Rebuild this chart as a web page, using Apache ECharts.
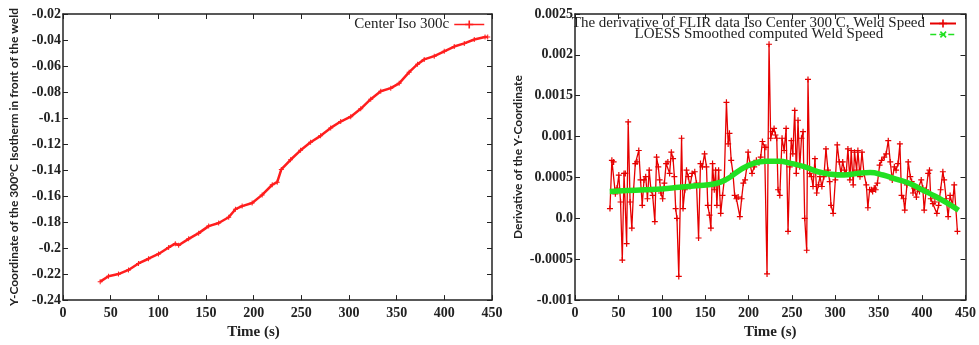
<!DOCTYPE html>
<html>
<head>
<meta charset="utf-8">
<script src="https://cdn.jsdelivr.net/npm/echarts@6/dist/echarts.min.js"></script>
<style>
html,body{margin:0;padding:0;background:#fff;}
#c{width:979px;height:345px;}
</style>
</head>
<body>
<div id="c"></div>
<script>
// ---- Left chart data: Y-coordinate of 300°C isotherm ----
const leftTime = [39, 47.7, 58.2, 68.7, 79.2, 89.7, 100.2, 110.8, 117.8, 121.3, 131.8, 142.3, 152.8, 163.3, 173.8, 180.9, 187.9, 198.4, 208.9, 219.5, 224.7, 229, 238.7, 249.2, 259.7, 270.2, 280.8, 291.3, 301.8, 312.3, 322.8, 333.3, 343.8, 352.6, 363.1, 371.9, 378.9, 389.4, 399.9, 410.4, 420.9, 431.4, 442.7, 445.5];
const leftValue = [-0.2258, -0.2216, -0.2200, -0.2168, -0.2118, -0.2082, -0.2045, -0.1995, -0.1966, -0.1978, -0.1929, -0.1885, -0.1831, -0.1807, -0.1763, -0.1701, -0.1677, -0.1653, -0.1591, -0.1513, -0.1493, -0.1395, -0.1321, -0.1248, -0.1186, -0.1137, -0.1076, -0.1027, -0.0990, -0.0929, -0.0855, -0.0794, -0.0770, -0.0733, -0.0647, -0.0586, -0.0549, -0.0524, -0.0487, -0.0450, -0.0426, -0.0396, -0.0377, -0.0377];

// ---- Right chart data: derivative (weld speed) ----
const derivTime = [40.3,42.5,44.5,46.5,48.5,50.5,52.5,54.5,56.5,58.0,59.5,61.3,63.5,65.5,67.5,69.5,71.5,73.5,75.5,77.5,79.5,81.5,83.5,85.5,87.5,89.5,92.0,94.0,96.0,97.5,99.0,101.0,103.0,105.0,107.0,109.0,111.0,113.0,114.5,116.0,117.5,119.6,122.8,124.5,126.6,128.5,130.5,132.5,135.0,138.0,140.0,142.4,144.6,146.8,149.3,151.5,153.0,155.0,156.6,158.5,160.5,162.0,163.5,165.5,167.9,170.0,172.0,174.5,176.5,178.0,180.0,182.0,184.0,186.0,188.0,190.0,192.0,194.0,196.0,198.0,199.5,201.5,204.0,206.5,209.0,212.0,214.0,216.0,218.5,220.0,221.3,223.6,225.5,227.5,229.4,231.0,232.5,234.0,236.0,238.6,241.0,243.3,245.5,247.5,249.3,251.0,253.2,255.0,257.0,259.0,261.0,262.8,264.7,267.0,268.5,270.5,272.5,274.3,276.5,278.5,280.5,282.3,284.5,286.8,289.2,291.5,293.5,295.0,297.5,300.0,302.2,304.5,306.5,308.5,310.5,312.5,314.5,316.8,318.3,320.6,322.1,324.5,326.0,328.4,330.7,333.0,335.7,337.5,339.5,341.5,343.0,344.8,346.5,348.5,351.0,353.3,356.4,358.6,361.0,363.3,365.6,368.0,370.0,372.3,374.4,376.3,378.6,380.0,382.5,384.0,386.4,388.0,389.5,391.0,393.4,395.0,397.0,399.0,400.8,402.4,404.7,407.0,408.5,410.0,412.4,414.7,417.0,419.0,421.3,423.9,425.4,427.7,430.0,432.3,435.0,437.0,440.7];
const derivValue = [0.00012,0.00071,0.00069,0.00030,0.00037,0.00053,0.00020,-0.00051,0.00055,0.00055,-0.00031,0.00118,0.00020,-0.00012,0.00035,0.00067,0.00069,0.00083,0.00047,0.00016,0.00047,0.00051,0.00024,0.00059,0.00035,0.00028,-0.00004,0.00075,0.00063,0.00047,0.00031,0.00024,0.00043,0.00067,0.00069,0.00055,0.00081,0.00073,0.00051,0.00012,0.00000,-0.00071,0.00098,0.00012,0.00035,0.00059,0.00051,0.00039,0.00055,0.00057,0.00043,-0.00024,0.00067,0.00063,0.00079,0.00063,0.00016,0.00004,-0.00012,0.00067,0.00035,0.00059,0.00016,0.00059,0.00006,0.00028,0.00047,0.00142,0.00091,0.00104,0.00071,0.00055,0.00028,0.00024,0.00026,0.00002,0.00024,0.00043,0.00047,0.00063,0.00081,0.00067,0.00055,0.00063,0.00071,0.00068,0.00075,0.00094,0.00087,0.00087,-0.00068,0.00213,0.00098,0.00106,0.00110,0.00102,0.00098,0.00035,0.00028,0.00098,0.00083,0.00110,-0.00016,0.00063,0.00095,0.00079,0.00132,0.00055,0.00120,0.00063,0.00098,0.00106,0.00000,-0.00039,0.00170,0.00055,0.00051,0.00039,0.00073,0.00031,0.00041,0.00051,0.00039,0.00051,0.00085,0.00059,0.00045,0.00016,0.00006,0.00047,0.00090,0.00069,0.00055,0.00069,0.00059,0.00055,0.00085,0.00047,0.00083,0.00041,0.00081,0.00059,0.00083,0.00051,0.00081,0.00055,0.00041,0.00013,0.00035,0.00035,0.00033,0.00037,0.00035,0.00043,0.00065,0.00071,0.00075,0.00079,0.00095,0.00069,0.00047,0.00063,0.00059,0.00067,0.00091,0.00028,0.00024,0.00010,0.00041,0.00069,0.00051,0.00045,0.00031,0.00037,0.00026,0.00035,0.00033,0.00047,0.00037,0.00010,0.00035,0.00055,0.00059,0.00024,0.00018,0.00020,0.00006,0.00016,0.00035,0.00057,0.00047,0.00024,0.00002,0.00028,0.00016,0.00041,-0.00016];

// ---- LOESS smoothed weld speed ----
const loessTime = [40,60,80,100,120,140,160,175,190,205,220,235,250,265,280,295,310,325,340,355,370,385,400,415,430,442];
const loessValue = [0.00033,0.00034,0.00035,0.00036,0.00038,0.00040,0.00042,0.00048,0.00059,0.00067,0.00070,0.00070,0.00067,0.00063,0.00057,0.00054,0.00053,0.00055,0.00056,0.00053,0.00048,0.00043,0.00035,0.00027,0.00018,0.00010];

// ---- Names / ticks ----
const leftSeriesName = 'Center Iso 300c';
const derivSeriesName = 'The derivative of FLIR data Iso Center 300 C, Weld Speed';
const loessSeriesName = 'LOESS Smoothed computed Weld Speed';
const xName = 'Time (s)';
const leftYName = 'Y-Coordinate of the 300°C Isotherm in front of the weld';
const rightYName = 'Derivative of the Y-Coordinate';
const xRange = {min: 0, max: 450, interval: 50};
const leftYRange = {min: -0.24, max: -0.02, interval: 0.02};
const rightYRange = {min: -0.001, max: 0.0025, interval: 0.0005};

const zip = (a, b) => a.map((v, i) => [v, b[i]]);

const SERIF = "'Liberation Serif', 'Times New Roman', serif";
const SANS = "Lato, 'Liberation Sans', sans-serif";
const INK = '#222';
const PLUS = 'path://M4,0h2v4h4v2h-4v4h-2v-4h-4v-2h4z';

function xAxis(grid, top, nameGap, namePad) {
  return Object.assign({
    type: 'value', gridIndex: grid, position: top ? 'top' : 'bottom',
    axisLine: {show: true, onZero: false, lineStyle: {color: INK, width: 1.5}},
    axisTick: {show: true, inside: true, length: 5, lineStyle: {color: INK, width: 1}},
    axisLabel: {show: !top, margin: 6, color: INK, fontFamily: SERIF, fontWeight: 'bold', fontSize: 14},
    splitLine: {show: false},
    name: top ? '' : xName, nameLocation: 'middle', nameGap: nameGap,
    nameTextStyle: {color: INK, fontFamily: SERIF, fontWeight: 'bold', fontSize: 15, padding: namePad || 0}
  }, xRange);
}
function yAxis(grid, right, range, nameText, nameGap, fmt) {
  return Object.assign({
    type: 'value', gridIndex: grid, position: right ? 'right' : 'left',
    axisLine: {show: true, onZero: false, lineStyle: {color: INK, width: 1.5}},
    axisTick: {show: true, inside: true, length: 5, lineStyle: {color: INK, width: 1}},
    axisLabel: {show: !right, margin: 2, color: INK, fontFamily: SERIF, fontWeight: 'bold', fontSize: 14, formatter: fmt},
    splitLine: {show: false},
    name: right ? '' : nameText, nameLocation: 'middle', nameGap: nameGap,
    nameTextStyle: {color: INK, fontFamily: SANS, fontWeight: 'bold', fontSize: 12}
  }, range);
}
const rightFmt = v => (Math.abs(v) < 1e-12 ? '0.0' : String(+v.toFixed(4)));

const chart = echarts.init(document.getElementById('c'), null, {renderer: 'canvas'});
chart.setOption({
  backgroundColor: '#fff',
  animation: false,
  grid: [
    {left: 63, right: 487, top: 14, bottom: 32},
    {left: 575, right: 13, top: 14, bottom: 35}
  ],
  xAxis: [
    xAxis(0, false, 17, [0, 48, 0, 0]), xAxis(0, true),
    xAxis(1, false, 16), xAxis(1, true)
  ],
  yAxis: [
    yAxis(0, false, leftYRange, leftYName, 43), yAxis(0, true, leftYRange),
    yAxis(1, false, rightYRange, rightYName, 51, rightFmt), yAxis(1, true, rightYRange)
  ],
  legend: [
    {data: [leftSeriesName], right: 489, top: 12, align: 'right', itemWidth: 30, itemHeight: 10, selectedMode: false,
     lineStyle: {width: 1.5}, textStyle: {fontFamily: SERIF, fontSize: 15, color: INK}},
    {data: [derivSeriesName], right: 17, top: 11, align: 'right', itemWidth: 26, itemHeight: 10, selectedMode: false,
     textStyle: {fontFamily: SERIF, fontSize: 15, color: INK}},
    {data: [loessSeriesName], right: 17, top: 22, align: 'right', itemWidth: 26, itemHeight: 10, selectedMode: false,
     lineStyle: {width: 1.5, type: 'dashed'},
     textStyle: {fontFamily: SERIF, fontSize: 15, color: INK, padding: [0, 42, 0, 0]}}
  ],
  series: [
    {name: leftSeriesName, type: 'line', xAxisIndex: 0, yAxisIndex: 0, data: zip(leftTime, leftValue),
     symbol: PLUS, symbolSize: 5, showAllSymbol: true,
     lineStyle: {color: '#ff1e1e', width: 2.5}, itemStyle: {color: '#ff1e1e'}},
    {name: derivSeriesName, type: 'line', xAxisIndex: 2, yAxisIndex: 2, data: zip(derivTime, derivValue),
     symbol: PLUS, symbolSize: 6, showAllSymbol: true, z: 2,
     lineStyle: {color: '#e60000', width: 1.3}, itemStyle: {color: '#e60000'}},
    {name: loessSeriesName, type: 'line', xAxisIndex: 2, yAxisIndex: 2, data: zip(loessTime, loessValue),
     smooth: true, symbol: PLUS, symbolRotate: 45, symbolSize: 7, showSymbol: false, z: 3,
     lineStyle: {color: '#22e022', width: 5.5}, itemStyle: {color: '#22e022'}}
  ]
});
</script>
</body>
</html>
